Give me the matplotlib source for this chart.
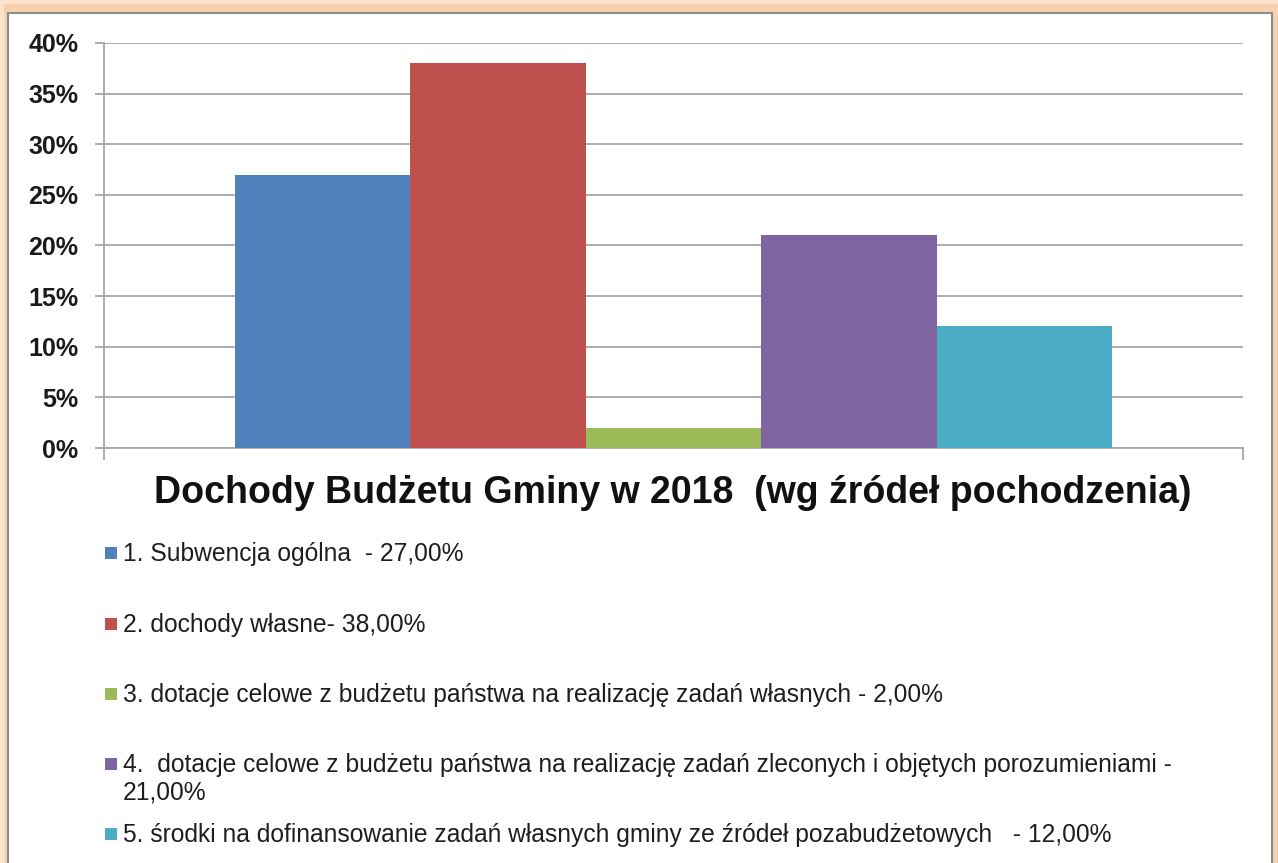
import matplotlib
matplotlib.use("Agg")
import matplotlib.pyplot as plt
from matplotlib.patches import Rectangle
from matplotlib.ticker import FuncFormatter

plt.rcParams['font.family'] = ['Liberation Sans', 'DejaVu Sans']

# ---- data ----
series_labels = [
    "1. Subwencja ogólna  - 27,00%",
    "2. dochody własne- 38,00%",
    "3. dotacje celowe z budżetu państwa na realizację zadań własnych - 2,00%",
    "4.  dotacje celowe z budżetu państwa na realizację zadań zleconych i objętych porozumieniami -\n21,00%",
    "5. środki na dofinansowanie zadań własnych gminy ze źródeł pozabudżetowych   - 12,00%",
]
values = [0.27, 0.38, 0.02, 0.21, 0.12]
colors = ["#4F81BD", "#C0504D", "#9BBB59", "#8064A2", "#4BACC6"]
yticks = [0, 0.05, 0.10, 0.15, 0.20, 0.25, 0.30, 0.35, 0.40]
title = "Dochody Budżetu Gminy w 2018  (wg źródeł pochodzenia)"

W, H = 1278, 863
fig = plt.figure(figsize=(W / 100, H / 100), dpi=100)
fig.patch.set_facecolor("#FBD6B6")

# glow / frame
fig.patches.append(Rectangle((0, 0), 1, 1, transform=fig.transFigure,
                             facecolor="#FCE3CD", edgecolor="none", zorder=0))
fig.patches.append(Rectangle((4 / W, 0), (W - 4) / W, 1 - 4 / H, transform=fig.transFigure,
                             facecolor="#FAD1AE", edgecolor="none", zorder=0))
fig.patches.append(Rectangle((8 / W, -0.01), (1272 - 8) / W, 1 - 13 / H + 0.01,
                             transform=fig.transFigure, facecolor="white",
                             edgecolor="#8C8C8C", linewidth=1.5, zorder=1))

# axes
left, right, top, bottom = 104, 1243, 43, 448
ax = fig.add_axes([left / W, 1 - bottom / H, (right - left) / W, (bottom - top) / H])
ax.set_zorder(2)
ax.patch.set_alpha(0)

n = len(values)
group_w = 877 / (right - left)
bw = group_w / n
start = -group_w / 2
for i, (v, c) in enumerate(zip(values, colors)):
    ax.bar(start + bw * (i + 0.5), v, width=bw, color=c, edgecolor="none", zorder=3)

ax.set_xlim(-0.5, 0.5)
ax.set_ylim(0, 0.40)
ax.set_yticks(yticks)
ax.yaxis.set_major_formatter(FuncFormatter(lambda v, p: f"{round(v*100)}%"))
ax.set_xticks([-0.5, 0.5])
ax.set_xticklabels([])
ax.grid(axis="y", color="#A6A6A6", linewidth=1.3, zorder=0)
for s in ["top", "right"]:
    ax.spines[s].set_visible(False)
for s in ["left", "bottom"]:
    ax.spines[s].set_color("#A6A6A6")
    ax.spines[s].set_linewidth(1.3)
ax.tick_params(axis="y", direction="out", length=6.5, width=1.3, color="#A6A6A6",
               labelsize=18, pad=12)
ax.tick_params(axis="x", direction="out", length=8.5, width=1.3, color="#A6A6A6")
for lab in ax.get_yticklabels():
    lab.set_fontweight("bold")
    lab.set_color("#1A1A1A")

# title
fig.text(673 / W, 1 - 493 / H, title, ha="center", va="center", fontsize=27,
         fontweight="bold", color="#111111", zorder=5)

# legend (baselines in pixels)
row_base = [561, 632, 702, 772, 842]
line_pitch = 27
for lab, c, yb in zip(series_labels, colors, row_base):
    fig.patches.append(Rectangle((105 / W, 1 - (yb - 2) / H), 12 / W, 12 / H,
                                 transform=fig.transFigure, facecolor=c,
                                 edgecolor="none", zorder=5))
    for k, line in enumerate(lab.split("\n")):
        fig.text(123 / W, 1 - (yb + k * line_pitch) / H, line, ha="left",
                 va="baseline", fontsize=17.7, color="#1E1E1E", zorder=5)

fig.savefig("out.png", dpi=100, facecolor=fig.get_facecolor())
